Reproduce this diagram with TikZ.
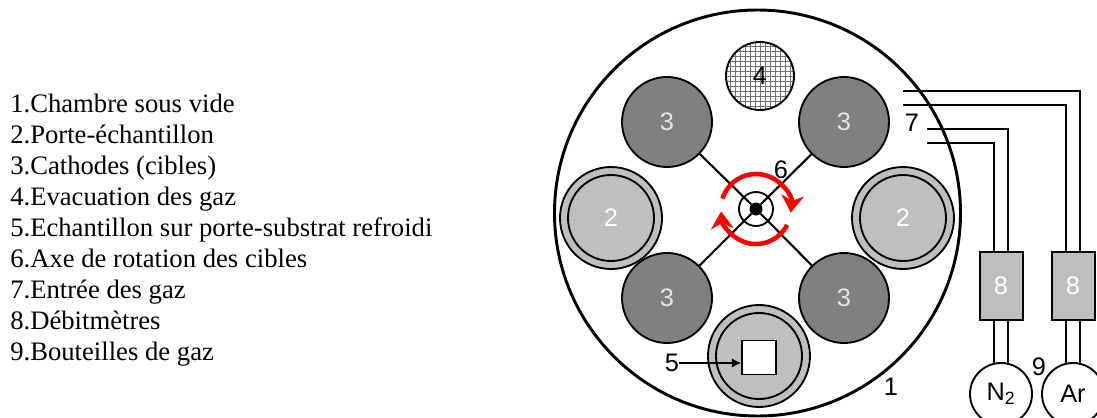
\documentclass[tikz,border=0pt]{standalone}
\usepackage{fontspec}
\setmainfont{Liberation Serif}
\setsansfont{Liberation Sans}
\usetikzlibrary{calc,arrows.meta,positioning}
\tikzset{
  num/.style={font=\sffamily\fontsize{19}{22}\selectfont,inner sep=0pt},
  disc/.style={circle,draw=black,line width=1.4pt,inner sep=0pt,num},
  cathode/.style={disc,fill=black!50,text=white!90!black,minimum size=67.5pt},
  holder/.style={disc,fill=black!25,minimum size=76.5pt},
  holderin/.style={disc,fill=black!25,text=white,minimum size=64.5pt},
  bottle/.style={disc,fill=white,minimum size=46.5pt},
  flowbox/.style={rectangle,draw=black,line width=1.5pt,fill=black!25,text=white,num,minimum width=32.25pt,minimum height=51pt},
  pipe/.style={line width=1.4pt},
  rot/.style={red,line width=3.4pt,-{Stealth[length=13pt,width=17pt]}},
  item/.style={anchor=base west,inner sep=0pt,font=\fontsize{20}{24}\selectfont}
}
\begin{document}
\begin{tikzpicture}[x=0.75pt,y=-0.75pt]
   \useasboundingbox (0,0) rectangle (1097,418);
   % legend
   \foreach \n/\ypos/\txt in {1/112/1.Chambre sous vide,2/143/2.Porte-échantillon,3/174/3.Cathodes (cibles),4/205/4.Evacuation des gaz,5/236/5.Echantillon sur porte-substrat refroidi,6/267/6.Axe de rotation des cibles,7/298/7.Entrée des gaz,8/329/8.Débitmètres,9/360/9.Bouteilles de gaz}
     \node[item] (item\n) at (10,\ypos) {\txt};
   % chamber
   \node[circle,draw=black,line width=2.2pt,minimum size=304.5pt] (chamber) at (757.5,213) {};
   \node[num] (lab1) at (891,387) {1};
   % cathodes
   \node[cathode] (cathA) at (667,122) {3};
   \node[cathode] (cathB) at (844,122) {3};
   \node[cathode] (cathC) at (667,298) {3};
   \node[cathode] (cathD) at (844,298) {3};
   % pumping port
   \node[disc,minimum size=51pt,fill=white,path picture={
     \draw[black!55,line width=0.5pt,step=3.75pt] (path picture bounding box.south west) grid (path picture bounding box.north east);}] (port) at (760,76) {};
   \node[num] (lab4) at (760,76) {4};
   % holders
   \node[holder] (holdL) at (611,218) {};
   \node[holderin] (holdLin) at (611,218) {2};
   \node[holder] (holdR) at (903,218) {};
   \node[holderin] (holdRin) at (903,218) {2};
   \node[holder] (holdB) at (759,356) {};
   \node[holderin] (holdBin) at (759,356) {};
   \node[draw=black,line width=1.1pt,fill=white,inner sep=0pt,minimum size=25.5pt] (sample) at (759,357.5) {};
   \node[num] (lab5) at (672,363) {5};
   \draw[line width=1.4pt,-{Latex[length=7pt,width=7pt]}] (lab5.east) -- (sample.west |- lab5.east);
   % axis
   \node[circle,fill=black,inner sep=0pt,minimum size=9.75pt] (axis) at (756,209) {};
   \node[circle,draw=black,line width=1.4pt,inner sep=0pt,minimum size=25.5pt] (ring) at (756,209) {};
   \node[num] (lab6) at (781,170) {6};
   \foreach \c in {cathA,cathB,cathC,cathD}
     \draw[line width=1.6pt] (\c) -- (axis);
   \draw[rot] (axis.center) ++(163:26.25pt) arc[start angle=163,end angle=-6,radius=26.25pt];
   \draw[rot] (axis.center) ++(-27:26.25pt) arc[start angle=-27,end angle=-176,radius=26.25pt];
   % gas lines
   \node[flowbox] (flowN) at (1001,286) {8};
   \node[flowbox] (flowAr) at (1073,286) {8};
   \node[bottle] (bottN) at (1001,394) {N\textsubscript{2}};
   \node[bottle] (bottAr) at (1073,394) {Ar};
   \node[num] (lab7) at (912,123) {7};
   \node[num] (lab9) at (1039,367) {9};
   \coordinate (inA) at (903,91);
   \coordinate (inB) at (903,105);
   \coordinate (inC) at (927,129);
   \coordinate (inD) at (927,143);
   \draw[pipe] (inA) -| ($(flowAr.north)+(7,0)$);
   \draw[pipe] (inB) -| ($(flowAr.north)+(-7,0)$);
   \draw[pipe] (inC) -| ($(flowN.north)+(7,0)$);
   \draw[pipe] (inD) -| ($(flowN.north)+(-7,0)$);
   \draw[pipe] ($(flowN.south)+(7,0)$) -- ++(0,44);
   \draw[pipe] ($(flowN.south)+(-7,0)$) -- ++(0,44);
   \draw[pipe] ($(flowAr.south)+(7,0)$) -- ++(0,44);
   \draw[pipe] ($(flowAr.south)+(-7,0)$) -- ++(0,44);
\end{tikzpicture}
\end{document}
